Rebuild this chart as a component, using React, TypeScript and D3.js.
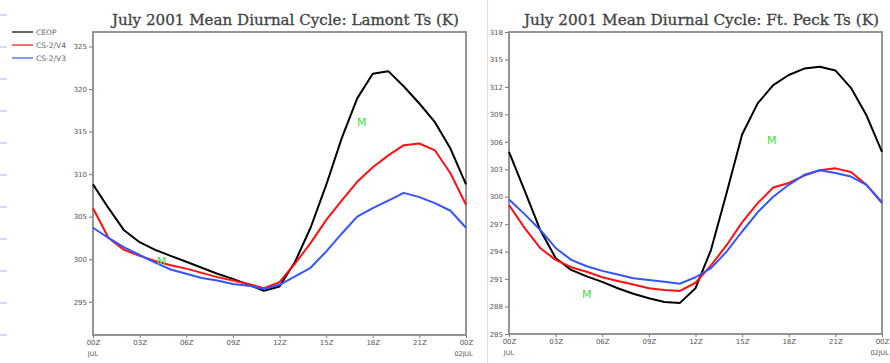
import React, { useEffect, useRef } from 'react';
import * as d3 from 'd3';

// hours 00Z..24Z (hourly means)
const hours = d3.range(0, 25);
const xTickHours = [0, 3, 6, 9, 12, 15, 18, 21, 24];
const xTickLabels = ['00Z', '03Z', '06Z', '09Z', '12Z', '15Z', '18Z', '21Z', '00Z'];
const xSubLabels = ['JUL', '', '', '', '', '', '', '', '02JUL'];

const seriesNames = ['CEOP', 'CS-2/V4', 'CS-2/V3'];
const seriesColors = ['#000000', '#ff1010', '#3355ff'];

// Lamont Ts (K)
const lamontCeop = [308.8, 306.0, 303.4, 302.0, 301.1, 300.4, 299.7, 299.0, 298.3, 297.7, 297.0, 296.3, 296.8, 299.7, 303.7, 308.7, 314.2, 318.9, 321.8, 322.1, 320.3, 318.3, 316.1, 313.0, 308.8];
const lamontV4 = [306.0, 302.5, 301.1, 300.4, 299.8, 299.3, 298.9, 298.4, 297.9, 297.5, 297.1, 296.6, 297.3, 299.5, 301.9, 304.6, 306.9, 309.1, 310.8, 312.2, 313.4, 313.6, 312.8, 310.1, 306.4];
const lamontV3 = [303.7, 302.5, 301.4, 300.5, 299.6, 298.8, 298.3, 297.8, 297.5, 297.1, 296.9, 296.5, 297.0, 298.0, 299.0, 300.9, 303.0, 305.0, 306.0, 306.9, 307.8, 307.3, 306.6, 305.7, 303.7];
const lamontTicks = [295, 300, 305, 310, 315, 320, 325];
const lamontRange = [291.1, 326.7];
const lamontMarks = [{ h: 17.3, v: 316.1 }, { h: 4.4, v: 299.8 }];

// Ft. Peck Ts (K)
const peckCeop = [304.9, 300.7, 296.4, 293.3, 292.0, 291.3, 290.7, 290.0, 289.4, 288.9, 288.5, 288.4, 290.0, 294.2, 300.4, 306.8, 310.2, 312.2, 313.3, 314.0, 314.2, 313.8, 311.9, 308.9, 304.9];
const peckV4 = [299.1, 296.6, 294.4, 293.1, 292.3, 291.8, 291.2, 290.8, 290.4, 290.0, 289.8, 289.7, 290.6, 292.5, 294.7, 297.2, 299.3, 301.0, 301.5, 302.3, 302.9, 303.1, 302.7, 301.3, 299.3];
const peckV3 = [299.7, 298.1, 296.4, 294.4, 293.1, 292.4, 291.9, 291.5, 291.1, 290.9, 290.7, 290.5, 291.2, 292.2, 294.0, 296.2, 298.3, 300.0, 301.3, 302.4, 302.9, 302.6, 302.2, 301.3, 299.4];
const peckTicks = [285, 288, 291, 294, 297, 300, 303, 306, 309, 312, 315, 318];
const peckRange = [285, 318];
const peckMarks = [{ h: 16.9, v: 306.2 }, { h: 5.0, v: 289.4 }];

const panels = [
  { title: 'July 2001 Mean Diurnal Cycle: Lamont Ts (K)', series: [lamontCeop, lamontV4, lamontV3], ticks: lamontTicks, range: lamontRange, marks: lamontMarks, left: 93, right: 466, top: 32, bottom: 335, titleW: 347 },
  { title: 'July 2001 Mean Diurnal Cycle: Ft. Peck Ts (K)', series: [peckCeop, peckV4, peckV3], ticks: peckTicks, range: peckRange, marks: peckMarks, left: 509, right: 882, top: 32, bottom: 334, titleW: 355 },
];

function App() {
  const ref = useRef<SVGSVGElement>(null);

  useEffect(() => {
    const svg = d3.select(ref.current);
    svg.selectAll('*').remove();
    const font = 'DejaVu Sans, sans-serif';

    // stray marks along the page edge
    svg.append('g')
      .selectAll('line')
      .data(d3.range(0, 11))
      .enter()
      .append('line')
      .attr('x1', 0).attr('x2', 7)
      .attr('y1', (d) => 15 + d * 32).attr('y2', (d) => 15 + d * 32)
      .attr('stroke', '#aab4ee').attr('stroke-width', 1);
    svg.append('line')
      .attr('x1', 487.5).attr('x2', 487.5).attr('y1', 0).attr('y2', 363)
      .attr('stroke', '#fbd6d6').attr('stroke-width', 1);

    // legend
    const legend = svg.append('g');
    seriesNames.forEach((name, i) => {
      const y = 32 + i * 13;
      legend.append('line')
        .attr('x1', 12).attr('x2', 33).attr('y1', y).attr('y2', y)
        .attr('stroke', seriesColors[i]).attr('stroke-width', 1.6).attr('opacity', 0.75);
      legend.append('text')
        .attr('x', 36).attr('y', y + 2.5)
        .style('font-family', font).style('font-size', '7.5px').style('fill', '#666')
        .text(name);
    });

    panels.forEach((p) => {
      const g = svg.append('g');
      const x = d3.scaleLinear().domain([0, 24]).range([p.left, p.right]);
      const y = d3.scaleLinear().domain(p.range).range([p.bottom, p.top]);

      g.append('text')
        .attr('x', (p.left + p.right) / 2 + 6).attr('y', 25)
        .attr('text-anchor', 'middle')
        .attr('textLength', p.titleW).attr('lengthAdjust', 'spacingAndGlyphs')
        .style('font-family', 'DejaVu Serif, serif').style('font-size', '14px')
        .style('fill', '#444').style('stroke', '#444').style('stroke-width', 0.3)
        .text(p.title);

      // y axis
      const yAxis = g.append('g').attr('transform', `translate(${p.left},0)`)
        .call(d3.axisLeft(y).tickValues(p.ticks).tickSize(4).tickPadding(2).tickFormat((d) => String(d)));
      yAxis.select('.domain').remove();
      yAxis.selectAll('line').attr('stroke', '#777');
      yAxis.selectAll('text').style('font-family', font).style('font-size', '7px').style('fill', '#555');

      // x axis
      const xAxis = g.append('g').attr('transform', `translate(0,${p.bottom})`)
        .call(d3.axisBottom(x).tickValues(xTickHours).tickSize(3).tickPadding(2).tickFormat((d, i) => xTickLabels[i]));
      xAxis.select('.domain').remove();
      xAxis.selectAll('line').attr('stroke', '#777');
      xAxis.selectAll('text').style('font-family', font).style('font-size', '7px').style('fill', '#555');

      g.append('g')
        .selectAll('text')
        .data(xTickHours.filter((h, i) => xSubLabels[i] !== ''))
        .enter()
        .append('text')
        .attr('x', (h) => (h === 24 ? x(h) + 7 : x(h)))
        .attr('y', p.bottom + 21)
        .attr('text-anchor', (h) => (h === 24 ? 'end' : 'middle'))
        .style('font-family', font).style('font-size', '6.5px').style('fill', '#555')
        .text((h) => xSubLabels[xTickHours.indexOf(h)]);

      // frame
      g.append('rect')
        .attr('x', p.left).attr('y', p.top)
        .attr('width', p.right - p.left).attr('height', p.bottom - p.top)
        .attr('fill', 'none').attr('stroke', '#8a8a8a').attr('stroke-width', 1.8);

      const line = d3.line<number>()
        .x((d, i) => x(hours[i]))
        .y((d) => y(d));

      p.series.forEach((s, i) => {
        g.append('path')
          .datum(s)
          .attr('d', line)
          .attr('fill', 'none')
          .attr('stroke', seriesColors[i])
          .attr('stroke-width', 2)
          .attr('stroke-linejoin', 'round');
      });

      g.append('g')
        .selectAll('text')
        .data(p.marks)
        .enter()
        .append('text')
        .attr('x', (d) => x(d.h)).attr('y', (d) => y(d.v) + 4)
        .attr('text-anchor', 'middle')
        .style('font-family', font).style('font-size', '11px').style('fill', '#44dd44')
        .text('M');
    });
  }, []);

  return (
    <svg ref={ref} width={890} height={363}
      style={{ position: 'absolute', left: 0, top: 0, background: 'white' }} />
  );
}

export default App;
